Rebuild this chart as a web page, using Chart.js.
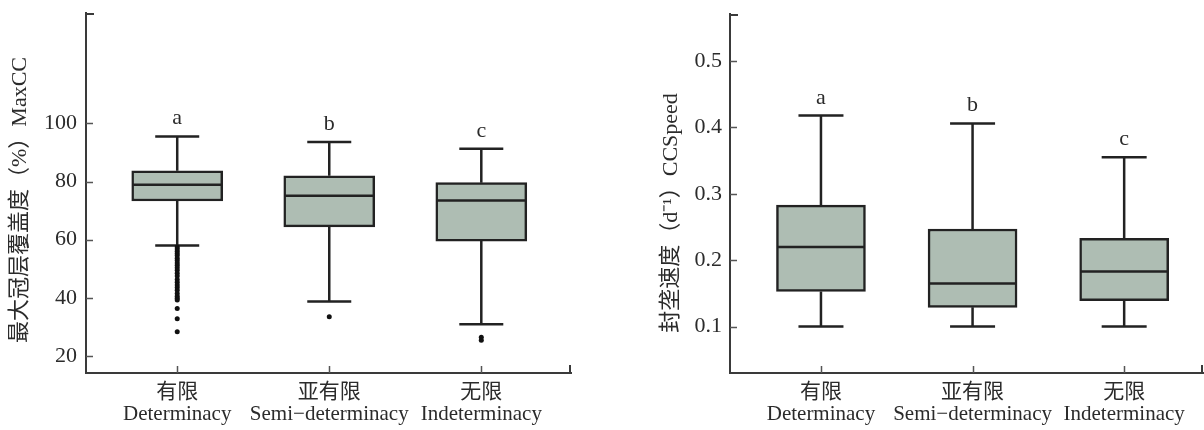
<!DOCTYPE html>
<html>
<head>
<meta charset="utf-8">
<script src="https://cdn.jsdelivr.net/npm/chart.js@4.4.1/dist/chart.umd.min.js"></script>
<style>
  html, body { margin: 0; padding: 0; background: #ffffff; overflow: hidden; }
  #wrap { position: relative; width: 1204px; height: 430px; }
  canvas { position: absolute; top: 0; }
  #maxcc { left: 0; }
  #speed { left: 600px; }
</style>
</head>
<body>
<div id="wrap">
  <canvas id="maxcc" width="600" height="430"></canvas>
  <canvas id="speed" width="604" height="430"></canvas>
</div>
<script>
// Growth-habit groups (two-line tick labels: Chinese / English)
const categories = [
  ['有限', 'Determinacy'],
  ['亚有限', 'Semi−determinacy'],
  ['无限', 'Indeterminacy']
];
// Significance letters above each box
const groupLetters = ['a', 'b', 'c'];

// Maximum canopy cover, MaxCC (%)
const maxccLowerWhisker = [58.0, 38.7, 30.9];
const maxccQ1 = [73.3, 64.4, 59.5];
const maxccMedian = [78.9, 75.1, 73.5];
const maxccQ3 = [83.7, 82.0, 79.6];
const maxccUpperWhisker = [95.5, 93.6, 91.3];
const maxccOutliers = [
  [57.5, 56.8, 56.0, 55.2, 54.5, 53.6, 52.8, 52.0, 51.2, 50.3, 49.5, 48.4, 47.5,
   46.3, 45.3, 44.4, 43.5, 42.6, 41.5, 40.5, 39.8, 39.2, 36.3, 32.8, 28.3],
  [33.5],
  [26.4, 25.4]
];
const maxccTicks = [20, 40, 60, 80, 100];

// Canopy closure speed, CCSpeed (d^-1)
const speedLowerWhisker = [0.100, 0.100, 0.100];
const speedQ1 = [0.153, 0.129, 0.139];
const speedMedian = [0.220, 0.165, 0.183];
const speedQ3 = [0.283, 0.247, 0.233];
const speedUpperWhisker = [0.418, 0.406, 0.355];
const speedOutliers = [[], [], []];
const speedTicks = [0.1, 0.2, 0.3, 0.4, 0.5];

const FONT_FAMILY = '"Liberation Serif", "Times New Roman", "Noto Sans CJK SC", serif';
const INK = '#2b2b2b';
const AXIS = '#3a3a3a';
const BOX_FILL = '#aebdb3';
const BOX_EDGE = '#222222';

// Whiskers, caps, medians, letters, axis title and inward tick marks, placed via the chart scales
const boxPlotExtras = {
  id: 'boxPlotExtras',
  beforeDatasetsDraw(chart, args, o) {
    const x = chart.scales.x, y = chart.scales.y, ctx = chart.ctx;
    ctx.save();
    ctx.strokeStyle = BOX_EDGE;
    ctx.lineWidth = 2.5;
    ctx.lineCap = 'butt';
    o.median.forEach((m, i) => {
      const cx = x.getPixelForValue(i + 1);
      const half = o.capWidth / 2;
      const yLo = y.getPixelForValue(o.lower[i]);
      const yHi = y.getPixelForValue(o.upper[i]);
      const yQ1 = y.getPixelForValue(o.q1[i]);
      const yQ3 = y.getPixelForValue(o.q3[i]);
      ctx.beginPath();
      ctx.moveTo(cx, yHi); ctx.lineTo(cx, yQ3);
      ctx.moveTo(cx, yQ1); ctx.lineTo(cx, yLo);
      ctx.moveTo(cx - half, yHi); ctx.lineTo(cx + half, yHi);
      ctx.moveTo(cx - half, yLo); ctx.lineTo(cx + half, yLo);
      ctx.stroke();
    });
    ctx.restore();
  },
  afterDatasetsDraw(chart, args, o) {
    const x = chart.scales.x, y = chart.scales.y, ctx = chart.ctx;
    ctx.save();
    ctx.strokeStyle = BOX_EDGE;
    ctx.lineWidth = 2.5;
    o.median.forEach((m, i) => {
      const cx = x.getPixelForValue(i + 1);
      const half = o.boxWidth / 2;
      const ym = y.getPixelForValue(m);
      ctx.beginPath();
      ctx.moveTo(cx - half + 1, ym); ctx.lineTo(cx + half - 1, ym);
      ctx.stroke();
      ctx.fillStyle = INK;
      ctx.font = '22px ' + FONT_FAMILY;
      ctx.textAlign = 'center';
      ctx.textBaseline = 'alphabetic';
      ctx.fillText(o.letters[i], cx, y.getPixelForValue(o.upper[i]) - 12);
    });
    ctx.restore();
  },
  afterDraw(chart, args, o) {
    const x = chart.scales.x, y = chart.scales.y, ctx = chart.ctx;
    const area = chart.chartArea;
    ctx.save();
    // inward tick marks
    ctx.strokeStyle = '#555555';
    ctx.lineWidth = 1.5;
    ctx.beginPath();
    o.yTicks.forEach(v => {
      const py = Math.round(y.getPixelForValue(v)) + 0.5;
      ctx.moveTo(area.left, py); ctx.lineTo(area.left + 7, py);
    });
    o.median.forEach((m, i) => {
      const px = Math.round(x.getPixelForValue(i + 1)) + 0.5;
      ctx.moveTo(px, area.bottom); ctx.lineTo(px, area.bottom - 7);
    });
    ctx.stroke();
    // axis end stubs
    ctx.strokeStyle = AXIS;
    ctx.lineWidth = 2;
    ctx.beginPath();
    ctx.moveTo(area.left, area.top + 1); ctx.lineTo(area.left + 8, area.top + 1);
    ctx.moveTo(area.right - 1, area.bottom); ctx.lineTo(area.right - 1, area.bottom - 8);
    ctx.stroke();
    // rotated y-axis title
    ctx.translate(o.titleX, o.titleY);
    ctx.rotate(-Math.PI / 2);
    ctx.fillStyle = INK;
    ctx.font = '22px ' + FONT_FAMILY;
    ctx.textAlign = 'center';
    ctx.textBaseline = 'middle';
    ctx.fillText(o.title, 0, 0);
    ctx.restore();
  }
};

function makeBoxChart(canvasId, cfg) {
  const boxes = cfg.q1.map((q, i) => ({ x: i + 1, y: [q, cfg.q3[i]] }));
  const dots = [];
  cfg.outliers.forEach((list, i) => list.forEach(v => dots.push({ x: i + 1, y: v })));
  return new Chart(document.getElementById(canvasId), {
    type: 'bar',
    data: {
      datasets: [
        {
          type: 'bar',
          data: boxes,
          backgroundColor: BOX_FILL,
          borderColor: BOX_EDGE,
          borderWidth: 2.5,
          borderSkipped: false,
          barThickness: cfg.boxWidth,
          order: 2
        },
        {
          type: 'scatter',
          data: dots,
          pointRadius: 2.5,
          pointBackgroundColor: '#111111',
          pointBorderWidth: 0,
          order: 1
        }
      ]
    },
    options: {
      responsive: false,
      animation: false,
      devicePixelRatio: 1,
      layout: { padding: { top: cfg.padTop, left: 0, right: cfg.padRight, bottom: 0 } },
      plugins: {
        legend: { display: false },
        tooltip: { enabled: false },
        boxPlotExtras: {
          lower: cfg.lower, upper: cfg.upper, q1: cfg.q1, q3: cfg.q3,
          median: cfg.median, letters: groupLetters, yTicks: cfg.yTicks,
          boxWidth: cfg.boxWidth, capWidth: cfg.capWidth,
          title: cfg.title, titleX: cfg.titleX, titleY: cfg.titleY
        }
      },
      scales: {
        x: {
          type: 'linear',
          offset: false,
          min: 0.4,
          max: cfg.xMax,
          grid: { display: false, drawTicks: false, offset: false },
          border: { display: true, color: AXIS, width: 2 },
          afterBuildTicks: s => { s.ticks = categories.map((c, i) => ({ value: i + 1 })); },
          afterFit: s => { s.height = 57; s.paddingLeft = 0; s.paddingRight = 0; },
          ticks: {
            autoSkip: false,
            maxRotation: 0,
            padding: 8,
            color: INK,
            font: { family: FONT_FAMILY, size: 21, lineHeight: 1.05 },
            callback: v => categories[v - 1]
          }
        },
        y: {
          min: cfg.yMin,
          max: cfg.yMax,
          grid: { display: false, drawTicks: false },
          border: { display: true, color: AXIS, width: 2 },
          afterBuildTicks: s => { s.ticks = cfg.yTicks.map(v => ({ value: v })); },
          afterFit: s => { s.width = cfg.axisWidth; s.paddingTop = 0; s.paddingBottom = 0; },
          ticks: {
            padding: cfg.tickPad,
            color: INK,
            font: { family: FONT_FAMILY, size: 22 },
            callback: cfg.tickFormat
          }
        }
      }
    },
    plugins: [boxPlotExtras]
  });
}

makeBoxChart('maxcc', {
  q1: maxccQ1, q3: maxccQ3, median: maxccMedian,
  lower: maxccLowerWhisker, upper: maxccUpperWhisker, outliers: maxccOutliers,
  yTicks: maxccTicks, yMin: 14.1, yMax: 138, xMax: 3.59,
  padTop: 13, padRight: 29, axisWidth: 86, tickPad: 9,
  boxWidth: 91, capWidth: 44,
  tickFormat: v => String(v),
  title: '最大冠层覆盖度（%）MaxCC', titleX: 20, titleY: 200
});

makeBoxChart('speed', {
  q1: speedQ1, q3: speedQ3, median: speedMedian,
  lower: speedLowerWhisker, upper: speedUpperWhisker, outliers: speedOutliers,
  yTicks: speedTicks, yMin: 0.030, yMax: 0.571, xMax: 3.52,
  padTop: 14, padRight: 1, axisWidth: 130, tickPad: 8,
  boxWidth: 89, capWidth: 45,
  tickFormat: v => v.toFixed(1),
  title: '封垄速度（d⁻¹）CCSpeed', titleX: 71, titleY: 213
});
</script>
</body>
</html>
